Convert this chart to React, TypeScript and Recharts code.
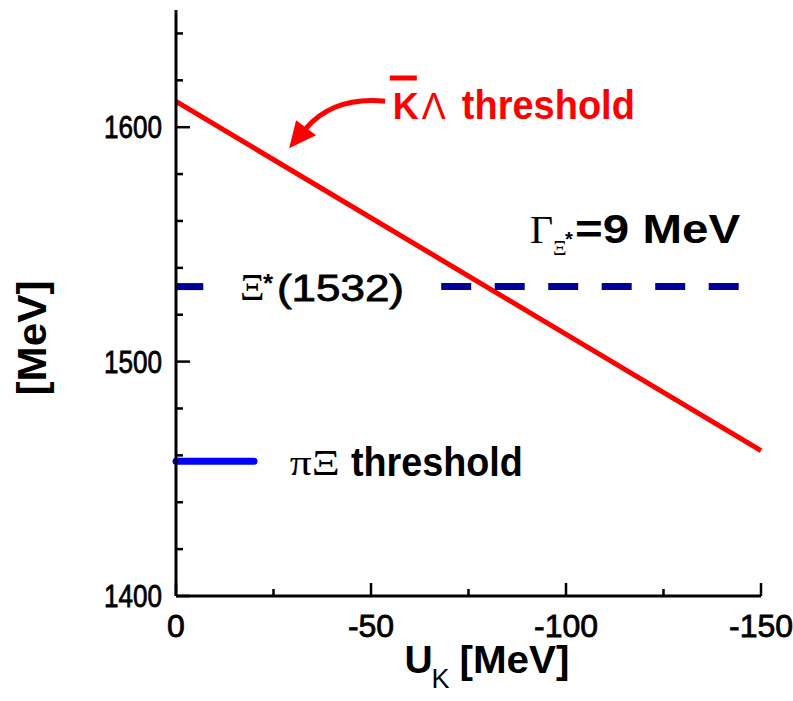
import React from 'react';
import { LineChart, Line, XAxis, YAxis, ReferenceDot } from 'recharts';

// ---- data ----
const kLambdaThreshold = [
  { x: 0, y: 1611 },
  { x: -150, y: 1462 },
];
const xiStarNearAxis = [
  { x: 0, y: 1532 },
  { x: -7, y: 1532 },
];
const xiStarRight = [
  { x: -68, y: 1532 },
  { x: -150, y: 1532 },
];
const piXiThreshold = [
  { x: 0, y: 1457.5 },
  { x: -20, y: 1457.5 },
];
const xTicks = [0, -25, -50, -75, -100, -125, -150];
const xMajorTicks = [0, -50, -100, -150];
const yTicks = [1400, 1420, 1440, 1460, 1480, 1500, 1520, 1540, 1560, 1580, 1600, 1620, 1640];
const yMajorTicks = [1400, 1500, 1600];

const SANS = "'Liberation Sans', Arial, Helvetica, sans-serif";
const SERIF = "'Liberation Serif', 'Times New Roman', serif";
const RED = '#ff0000';
const NAVY = '#000096';
const BLUE = '#0000ff';

const XTick = (props: any) => {
  const { x, y, payload } = props;
  const major = xMajorTicks.includes(payload.value);
  const label = String(payload.value);
  return (
    <g>
      <line x1={x} y1={y} x2={x} y2={y - (major ? 13 : 7)} stroke="#000" strokeWidth={2.5} />
      {major && (
        <text
          x={x}
          y={y + 41}
          textAnchor="middle"
          fontSize={32}
          fontFamily={SANS}
          fill="#000"
          stroke="#000"
          strokeWidth={0.8}
        >
          {label}
        </text>
      )}
    </g>
  );
};

const YTick = (props: any) => {
  const { x, y, payload } = props;
  const major = yMajorTicks.includes(payload.value);
  return (
    <g>
      <line x1={x} y1={y} x2={x + (major ? 14 : 7)} y2={y} stroke="#000" strokeWidth={2.5} />
      {major && (
        <text
          x={x - 14}
          y={y + 11}
          textAnchor="end"
          fontSize={32}
          fontFamily={SANS}
          fill="#000"
          stroke="#000"
          strokeWidth={0.8}
          textLength={58}
          lengthAdjust="spacingAndGlyphs"
        >
          {payload.value}
        </text>
      )}
    </g>
  );
};

const XTitle = (props: any) => {
  const { viewBox } = props;
  const left = viewBox.x + viewBox.width / 2 - 64;
  const by = viewBox.y + 77;
  return (
    <g fill="#000">
      <text x={left} y={by} fontSize={39} fontWeight="bold" fontFamily={SANS}>U</text>
      <text x={left + 27} y={by + 15} fontSize={27} fontFamily={SANS}>K</text>
      <text x={left + 55} y={by} fontSize={39} fontWeight="bold" fontFamily={SANS} textLength={110} lengthAdjust="spacingAndGlyphs">
        [MeV]
      </text>
    </g>
  );
};

const YTitle = (props: any) => {
  const { viewBox } = props;
  const cx = viewBox.x + 46;
  const cy = viewBox.y + viewBox.height / 2 + 35;
  return (
    <text
      x={cx}
      y={cy}
      transform={`rotate(-90, ${cx}, ${cy})`}
      textAnchor="middle"
      fontSize={40}
      fontWeight="bold"
      fontFamily={SANS}
      fill="#000"
      textLength={115}
      lengthAdjust="spacingAndGlyphs"
    >
      [MeV]
    </text>
  );
};

const KLambdaLabel = (p: any) => {
  const { cx, cy } = p;
  return (
    <g fill={RED}>
      <line x1={cx - 3} y1={cy - 41} x2={cx + 24} y2={cy - 41} stroke={RED} strokeWidth={5} />
      <text x={cx} y={cy} fontSize={36} fontWeight="bold" fontFamily={SANS}>K</text>
      <text x={cx + 29} y={cy} fontSize={36} fontFamily={SANS}>Λ</text>
      <text x={cx + 69} y={cy} fontSize={40} fontWeight="bold" fontFamily={SANS} textLength={173} lengthAdjust="spacingAndGlyphs">
        threshold
      </text>
    </g>
  );
};

const Arrow = (p: any) => {
  const { cx, cy } = p; // tip of arrow
  return (
    <g>
      <path
        d={`M ${cx + 96} ${cy - 47} Q ${cx + 45} ${cy - 52} ${cx + 17} ${cy - 20}`}
        fill="none"
        stroke={RED}
        strokeWidth={5}
      />
      <path d={`M ${cx} ${cy} L ${cx + 7} ${cy - 28} L ${cx + 27} ${cy - 13} Z`} fill={RED} />
    </g>
  );
};

const GammaLabel = (p: any) => {
  const { cx, cy } = p;
  return (
    <g fill="#000">
      <text x={cx} y={cy} fontSize={40} fontFamily={SERIF}>Γ</text>
      <text x={cx + 23} y={cy + 12} fontSize={21} fontFamily={SERIF}>Ξ</text>
      <text x={cx + 35} y={cy + 3} fontSize={20} fontWeight="bold" fontFamily={SANS}>*</text>
      <text x={cx + 45} y={cy} fontSize={40} fontWeight="bold" fontFamily={SANS} textLength={165} lengthAdjust="spacingAndGlyphs">
        =9 MeV
      </text>
    </g>
  );
};

const XiStarLabel = (p: any) => {
  const { cx, cy } = p;
  return (
    <g fill="#000">
      <text x={cx} y={cy + 13} fontSize={38} fontFamily={SERIF}>Ξ</text>
      <text x={cx + 23} y={cy + 5} fontSize={26} fontWeight="bold" fontFamily={SANS}>*</text>
      <text
        x={cx + 37}
        y={cy + 14}
        fontSize={37}
        fontFamily={SANS}
        stroke="#000"
        strokeWidth={0.8}
        textLength={127}
        lengthAdjust="spacingAndGlyphs"
      >
        (1532)
      </text>
    </g>
  );
};

const PiXiLabel = (p: any) => {
  const { cx, cy } = p;
  return (
    <g fill="#000">
      <text x={cx} y={cy + 14} fontSize={35} fontFamily={SERIF} textLength={50} lengthAdjust="spacingAndGlyphs">πΞ</text>
      <text x={cx + 61} y={cy + 15} fontSize={40} fontWeight="bold" fontFamily={SANS} textLength={172} lengthAdjust="spacingAndGlyphs">
        threshold
      </text>
    </g>
  );
};

export default function App() {
  return (
    <div style={{ position: 'absolute', left: 0, top: 0, background: '#fff' }}>
      <LineChart width={793} height={701} margin={{ top: 10, right: 32, left: 0, bottom: 0 }}>
        <XAxis
          type="number"
          dataKey="x"
          domain={[-150, 0]}
          reversed
          ticks={xTicks}
          interval={0}
          height={105}
          axisLine={{ stroke: '#000', strokeWidth: 3 }}
          tickLine={false}
          tickSize={0}
          tickMargin={0}
          tick={<XTick />}
          label={<XTitle />}
        />
        <YAxis
          type="number"
          dataKey="y"
          domain={[1400, 1650]}
          ticks={yTicks}
          interval={0}
          width={176}
          axisLine={{ stroke: '#000', strokeWidth: 3 }}
          tickLine={false}
          tickSize={0}
          tickMargin={0}
          tick={<YTick />}
          label={<YTitle />}
        />
        <Line data={kLambdaThreshold} dataKey="y" stroke={RED} strokeWidth={5} dot={false} isAnimationActive={false} />
        <Line data={xiStarNearAxis} dataKey="y" stroke={NAVY} strokeWidth={7} dot={false} isAnimationActive={false} />
        <Line
          data={xiStarRight}
          dataKey="y"
          stroke={NAVY}
          strokeWidth={7}
          strokeDasharray="30 23.5"
          dot={false}
          isAnimationActive={false}
        />
        <Line
          data={piXiThreshold}
          dataKey="y"
          stroke={BLUE}
          strokeWidth={7}
          strokeLinecap="round"
          dot={false}
          isAnimationActive={false}
        />
        <ReferenceDot x={-55.6} y={1603.5} r={0} shape={KLambdaLabel} />
        <ReferenceDot x={-29} y={1591} r={0} shape={Arrow} />
        <ReferenceDot x={-90.8} y={1550.6} r={0} shape={GammaLabel} />
        <ReferenceDot x={-16.4} y={1532} r={0} shape={XiStarLabel} />
        <ReferenceDot x={-29.2} y={1457.5} r={0} shape={PiXiLabel} />
      </LineChart>
    </div>
  );
}
